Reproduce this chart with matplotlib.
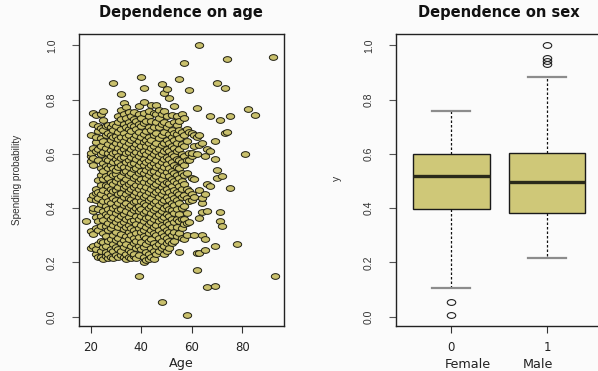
import numpy as np
import matplotlib
matplotlib.use("Agg")
import matplotlib.pyplot as plt
from matplotlib.markers import MarkerStyle
from matplotlib.transforms import Affine2D

# ---------------- data: spending probability by age (one list per age) -------------
p18 = [0.353]
p20 = [0.252, 0.316, 0.434, 0.573, 0.592, 0.604, 0.671]
p21 = [0.262, 0.305, 0.388, 0.402, 0.447, 0.558, 0.584, 0.622, 0.711, 0.752]
p22 = [0.232, 0.251, 0.327, 0.368, 0.429, 0.455, 0.472, 0.612, 0.645, 0.663, 0.745]
p23 = [0.221, 0.268, 0.318, 0.352, 0.398, 0.438, 0.461, 0.503, 0.576, 0.618, 0.684, 0.702]
p24 = [0.219, 0.243, 0.281, 0.336, 0.371, 0.417, 0.452, 0.484, 0.521, 0.547, 0.598, 0.631, 0.657, 0.697, 0.748]
p25 = [0.214, 0.256, 0.274, 0.309, 0.358, 0.391, 0.428, 0.466, 0.508, 0.539, 0.566, 0.607, 0.648, 0.688, 0.726, 0.757]
p26 = [0.223, 0.238, 0.262, 0.297, 0.334, 0.377, 0.409, 0.441, 0.487, 0.519, 0.557, 0.583, 0.621, 0.668, 0.703]
p27 = [0.216, 0.233, 0.279, 0.318, 0.347, 0.372, 0.396, 0.427, 0.458, 0.482, 0.513, 0.548, 0.577, 0.602, 0.638, 0.679, 0.708]
p28 = [0.222, 0.251, 0.288, 0.326, 0.359, 0.386, 0.419, 0.447, 0.471, 0.497, 0.531, 0.559, 0.592, 0.616, 0.652, 0.671, 0.699]
p29 = [0.218, 0.241, 0.268, 0.302, 0.338, 0.366, 0.401, 0.436, 0.462, 0.488, 0.521, 0.547, 0.572, 0.603, 0.628, 0.661, 0.688, 0.712, 0.862]
p30 = [0.229, 0.258, 0.283, 0.314, 0.349, 0.381, 0.407, 0.432, 0.468, 0.502, 0.527, 0.541, 0.582, 0.609, 0.641, 0.667, 0.702]
p31 = [0.221, 0.249, 0.292, 0.331, 0.362, 0.393, 0.421, 0.452, 0.478, 0.511, 0.552, 0.569, 0.594, 0.623, 0.654, 0.682, 0.719, 0.741]
p32 = [0.226, 0.243, 0.271, 0.304, 0.342, 0.373, 0.398, 0.429, 0.457, 0.492, 0.518, 0.561, 0.584, 0.612, 0.637, 0.661, 0.693, 0.728, 0.762, 0.820]
p33 = [0.219, 0.257, 0.283, 0.322, 0.351, 0.379, 0.412, 0.441, 0.473, 0.498, 0.533, 0.553, 0.589, 0.618, 0.648, 0.677, 0.709, 0.748, 0.789]
p34 = [0.214, 0.232, 0.268, 0.298, 0.331, 0.361, 0.389, 0.418, 0.451, 0.483, 0.509, 0.538, 0.571, 0.603, 0.629, 0.662, 0.698, 0.731, 0.772]
p35 = [0.221, 0.247, 0.288, 0.311, 0.339, 0.368, 0.403, 0.437, 0.462, 0.489, 0.522, 0.551, 0.578, 0.608, 0.641, 0.669, 0.691, 0.718, 0.753]
p36 = [0.216, 0.239, 0.262, 0.301, 0.328, 0.352, 0.383, 0.411, 0.433, 0.471, 0.498, 0.529, 0.562, 0.587, 0.619, 0.652, 0.683, 0.708, 0.739]
p37 = [0.223, 0.231, 0.273, 0.292, 0.318, 0.357, 0.392, 0.422, 0.448, 0.479, 0.512, 0.543, 0.568, 0.598, 0.627, 0.659, 0.702, 0.728, 0.755]
p38 = [0.215, 0.254, 0.281, 0.309, 0.341, 0.372, 0.401, 0.428, 0.459, 0.487, 0.517, 0.549, 0.581, 0.609, 0.638, 0.671, 0.692, 0.722]
p39 = [0.150, 0.229, 0.261, 0.293, 0.327, 0.362, 0.388, 0.409, 0.441, 0.472, 0.502, 0.531, 0.558, 0.592, 0.621, 0.648, 0.681, 0.712, 0.748, 0.776]
p40 = [0.248, 0.277, 0.312, 0.339, 0.371, 0.398, 0.427, 0.452, 0.483, 0.508, 0.539, 0.571, 0.602, 0.629, 0.662, 0.703, 0.733, 0.883]
p41 = [0.201, 0.222, 0.258, 0.297, 0.321, 0.352, 0.381, 0.418, 0.443, 0.468, 0.497, 0.528, 0.559, 0.581, 0.612, 0.643, 0.672, 0.713, 0.752, 0.792, 0.844]
p42 = [0.208, 0.238, 0.268, 0.291, 0.332, 0.363, 0.389, 0.412, 0.449, 0.477, 0.511, 0.542, 0.569, 0.601, 0.628, 0.651, 0.683, 0.722]
p43 = [0.214, 0.231, 0.281, 0.309, 0.342, 0.369, 0.402, 0.431, 0.461, 0.492, 0.521, 0.552, 0.579, 0.611, 0.641, 0.662, 0.698, 0.738, 0.757]
p44 = [0.219, 0.252, 0.287, 0.318, 0.349, 0.382, 0.409, 0.438, 0.471, 0.499, 0.532, 0.561, 0.588, 0.621, 0.652, 0.688, 0.721, 0.779]
p45 = [0.214, 0.242, 0.272, 0.308, 0.331, 0.361, 0.392, 0.421, 0.451, 0.481, 0.512, 0.538, 0.568, 0.598, 0.631, 0.668, 0.701, 0.752]
p46 = [0.231, 0.259, 0.302, 0.338, 0.371, 0.401, 0.428, 0.459, 0.491, 0.518, 0.551, 0.579, 0.612, 0.642, 0.679, 0.718, 0.746, 0.779]
p47 = [0.241, 0.268, 0.292, 0.321, 0.352, 0.379, 0.412, 0.441, 0.468, 0.502, 0.529, 0.561, 0.592, 0.619, 0.658, 0.698, 0.731, 0.762]
p48 = [0.054, 0.252, 0.281, 0.309, 0.338, 0.362, 0.391, 0.422, 0.452, 0.479, 0.508, 0.541, 0.572, 0.601, 0.632, 0.671, 0.709, 0.748, 0.858]
p49 = [0.232, 0.262, 0.298, 0.331, 0.368, 0.399, 0.431, 0.462, 0.489, 0.521, 0.552, 0.581, 0.611, 0.641, 0.681, 0.719, 0.758, 0.823]
p50 = [0.243, 0.271, 0.289, 0.318, 0.349, 0.378, 0.409, 0.442, 0.472, 0.498, 0.532, 0.562, 0.589, 0.618, 0.652, 0.698, 0.741, 0.839]
p51 = [0.252, 0.279, 0.311, 0.342, 0.371, 0.398, 0.432, 0.458, 0.492, 0.519, 0.548, 0.582, 0.611, 0.642, 0.672, 0.712, 0.805]
p52 = [0.271, 0.302, 0.329, 0.362, 0.392, 0.421, 0.448, 0.481, 0.509, 0.538, 0.572, 0.601, 0.629, 0.662, 0.688, 0.742]
p53 = [0.281, 0.312, 0.348, 0.381, 0.412, 0.439, 0.468, 0.502, 0.531, 0.561, 0.592, 0.622, 0.651, 0.679, 0.718, 0.778]
p54 = [0.298, 0.332, 0.362, 0.398, 0.429, 0.461, 0.492, 0.521, 0.552, 0.581, 0.612, 0.641, 0.672, 0.708, 0.741]
p55 = [0.237, 0.309, 0.352, 0.379, 0.418, 0.452, 0.481, 0.512, 0.548, 0.579, 0.618, 0.658, 0.689, 0.722, 0.876]
p56 = [0.291, 0.328, 0.359, 0.402, 0.441, 0.472, 0.502, 0.531, 0.569, 0.601, 0.638, 0.681, 0.747]
p57 = [0.288, 0.341, 0.362, 0.409, 0.448, 0.488, 0.521, 0.558, 0.592, 0.628, 0.669, 0.732, 0.936]
p58 = [0.007, 0.302, 0.345, 0.381, 0.438, 0.472, 0.529, 0.578, 0.648, 0.692]
p59 = [0.351, 0.428, 0.462, 0.578, 0.602, 0.681, 0.835]
p60 = [0.431, 0.452, 0.512, 0.592, 0.603, 0.677]
p61 = [0.301, 0.441, 0.509, 0.628, 0.668]
p62 = [0.174, 0.236, 0.598, 0.661, 0.770]
p63 = [0.236, 0.364, 0.467, 0.632, 0.671, 1.000]
p64 = [0.303, 0.386, 0.418, 0.439, 0.642]
p65 = [0.245, 0.286, 0.451, 0.591]
p66 = [0.108, 0.388, 0.491, 0.618]
p67 = [0.482, 0.612, 0.741]
p69 = [0.113, 0.262, 0.581, 0.648]
p70 = [0.510, 0.542, 0.860]
p71 = [0.354, 0.387, 0.725]
p72 = [0.335, 0.518]
p73 = [0.678, 0.844]
p74 = [0.682, 0.951]
p75 = [0.474, 0.741]
p78 = [0.268]
p81 = [0.598]
p82 = [0.767]
p85 = [0.742]
p92 = [0.958]
p93 = [0.151]

scatter_ages = [18, 20, 21, 22, 23, 24, 25, 26, 27, 28, 29, 30, 31, 32, 33, 34, 35,
                36, 37, 38, 39, 40, 41, 42, 43, 44, 45, 46, 47, 48, 49, 50, 51, 52,
                53, 54, 55, 56, 57, 58, 59, 60, 61, 62, 63, 64, 65, 66, 67, 69, 70,
                71, 72, 73, 74, 75, 78, 81, 82, 85, 92, 93]
scatter_probs = [p18, p20, p21, p22, p23, p24, p25, p26, p27, p28, p29, p30, p31, p32,
                 p33, p34, p35, p36, p37, p38, p39, p40, p41, p42, p43, p44, p45, p46,
                 p47, p48, p49, p50, p51, p52, p53, p54, p55, p56, p57, p58, p59, p60,
                 p61, p62, p63, p64, p65, p66, p67, p69, p70, p71, p72, p73, p74, p75,
                 p78, p81, p82, p85, p92, p93]

# ---------------- data: boxplot by sex -------------
sex_codes = ["0", "1"]
sex_names = ["Female", "Male"]
box_whislo = [0.107, 0.218]
box_q1 = [0.397, 0.382]
box_med = [0.518, 0.495]
box_q3 = [0.598, 0.602]
box_whishi = [0.757, 0.882]
female_outliers = [0.055, 0.008]
male_outliers = [0.930, 0.942, 0.953, 1.000]

# ---------------- style -------------
BG = "#fbfbfb"
FILL = "#c9c06c"
BOXFILL = "#cfc878"
EDGE = "#1e1e10"

ages_flat = np.concatenate([[a] * len(p) for a, p in zip(scatter_ages, scatter_probs)])
probs_flat = np.concatenate([np.asarray(p, float) for p in scatter_probs])

W, H = 598, 371
fig = plt.figure(figsize=(W / 100, H / 100), dpi=100, facecolor=BG)

def fx(px):
    return px / W

def fy(py):
    return 1 - py / H

ell = MarkerStyle("o", transform=Affine2D().scale(1.45, 1.0))

# ---------------- left panel -------------
ax1 = fig.add_axes([fx(79), fy(326), fx(284) - fx(79), fy(34) - fy(326)])
ax1.set_facecolor(BG)
ax1.scatter(ages_flat, probs_flat, s=17, marker=ell, facecolor=FILL,
            edgecolor=EDGE, linewidths=0.7, zorder=3)
ax1.set_xlim(15.4, 96.4)
ax1.set_ylim(-0.034, 1.042)
ax1.set_xticks([20, 40, 60, 80])
ax1.set_xticklabels(["20", "40", "60", "80"], fontsize=8.5, family="DejaVu Sans", color="#222")
ax1.set_yticks([0.0, 0.2, 0.4, 0.6, 0.8, 1.0])
ax1.set_yticklabels(["0.0", "0.2", "0.4", "0.6", "0.8", "1.0"], rotation=90, va="center",
                    fontsize=7.5, family="Liberation Sans", color="#333")
ax1.tick_params(axis="x", length=5, width=0.8, color="#333", pad=6)
ax1.tick_params(axis="y", length=5, width=0.8, color="#555", pad=11)
for sp in ax1.spines.values():
    sp.set_color("#222")
    sp.set_linewidth(1.0)

fig.text(fx(181), fy(13), "Dependence on age", ha="center", va="center",
         fontsize=10.5, fontweight="bold", family="DejaVu Sans", color="#111")
fig.text(fx(181), fy(364), "Age", ha="center", va="center",
         fontsize=9.2, family="DejaVu Sans", color="#222")
fig.text(fx(17), fy(180), "Spending probability", ha="center", va="center",
         rotation=90, fontsize=7.2, family="Liberation Sans", color="#333")

# ---------------- right panel -------------
ax2 = fig.add_axes([fx(396.3), fy(326), fx(603) - fx(396.3), fy(34) - fy(326)])
ax2.set_facecolor(BG)
stats = []
outs = [female_outliers, male_outliers]
for i in range(2):
    stats.append(dict(whislo=box_whislo[i], q1=box_q1[i], med=box_med[i],
                      q3=box_q3[i], whishi=box_whishi[i], fliers=outs[i]))
ax2.bxp(stats, positions=[1, 2], widths=0.8, capwidths=0.4, patch_artist=True,
        boxprops=dict(facecolor=BOXFILL, edgecolor="#1a1a1a", linewidth=1.0),
        medianprops=dict(color="#2a2a1a", linewidth=2.4, solid_capstyle="butt"),
        whiskerprops=dict(color="#111", linewidth=0.9, linestyle=(0, (2, 1.6))),
        capprops=dict(color="#8c8c8c", linewidth=1.6),
        flierprops=dict(marker=ell, markersize=4.2, markerfacecolor="none",
                        markeredgecolor="#222", markeredgewidth=0.8))
ax2.set_xlim(0.425, 2.585)
ax2.set_ylim(-0.034, 1.042)
ax2.set_xticks([1, 2])
ax2.set_xticklabels(sex_codes, fontsize=8.5, family="DejaVu Sans", color="#222")
ax2.set_yticks([0.0, 0.2, 0.4, 0.6, 0.8, 1.0])
ax2.set_yticklabels(["0.0", "0.2", "0.4", "0.6", "0.8", "1.0"], rotation=90, va="center",
                    fontsize=7.5, family="Liberation Sans", color="#333")
ax2.tick_params(axis="x", length=5, width=0.8, color="#333", pad=6)
ax2.tick_params(axis="y", length=5, width=0.8, color="#555", pad=11)
for sp in ax2.spines.values():
    sp.set_color("#222")
    sp.set_linewidth(1.0)

fig.text(fx(499), fy(13), "Dependence on sex", ha="center", va="center",
         fontsize=10.5, fontweight="bold", family="DejaVu Sans", color="#111")
fig.text(fx(467.5), fy(365), sex_names[0], ha="center", va="center",
         fontsize=9.2, family="DejaVu Sans", color="#222")
fig.text(fx(538), fy(365), sex_names[1], ha="center", va="center",
         fontsize=9.2, family="DejaVu Sans", color="#222")
fig.text(fx(336.5), fy(178), "y", ha="center", va="center",
         rotation=90, fontsize=7.5, family="Liberation Sans", color="#333")

fig.savefig("out.png", dpi=100, facecolor=BG)
